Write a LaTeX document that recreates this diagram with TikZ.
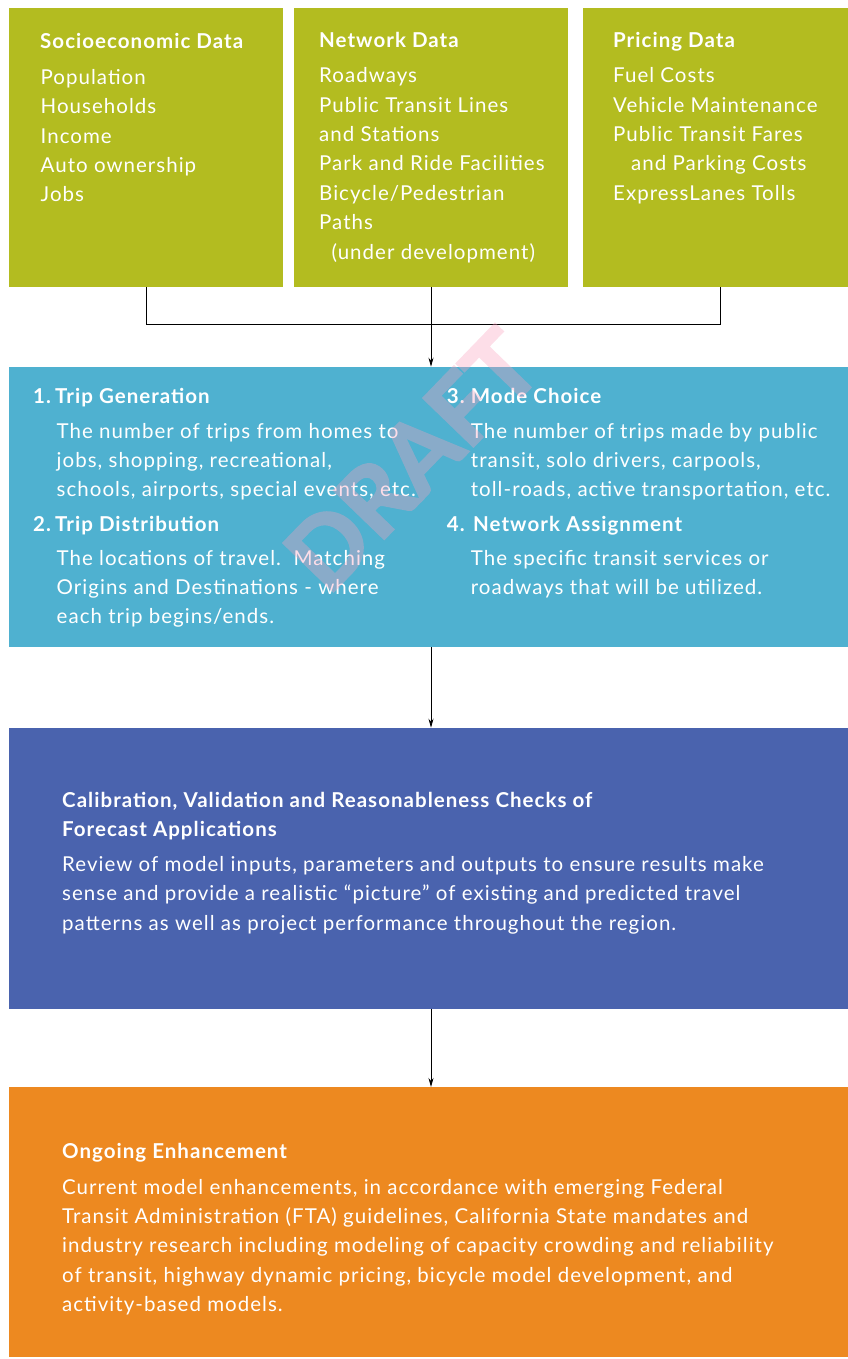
\documentclass[tikz,border=0pt]{standalone}
\usepackage{fontspec}
\setmainfont{Lato}[LetterSpace=5]
\newfontfamily\wmfont{Lato}[BoldFeatures={FakeBold=2.5}]
\usetikzlibrary{arrows.meta}
\definecolor{cgreen}{RGB}{179,188,32}
\definecolor{cblue}{RGB}{79,177,208}
\definecolor{cpurple}{RGB}{74,99,174}
\definecolor{corange}{RGB}{237,137,32}
\definecolor{cpink}{RGB}{248,160,190}
\newcommand\blk[2][600pt]{\parbox[t]{#1}{\fontsize{20.5}{29.4}\selectfont\raggedright #2}}
\begin{document}
\begin{tikzpicture}[x=1pt,y=-1pt,
  panel/.style={fill=#1,draw=none},
  txt/.style={anchor=base west,inner sep=0pt,text=white},
  hd/.style={anchor=base west,inner sep=0pt,text=white,font=\fontsize{20.5}{24}\selectfont\bfseries},
  conn/.style={draw=black,line width=0.8pt},
  arr/.style={conn,-{Stealth[length=9pt,width=5pt]}}]
\useasboundingbox (0,0) rectangle (848,1359);
% boxes
\path[panel=cgreen] (9,8) rectangle (283,287.3);
\path[panel=cgreen] (294,8) rectangle (567.7,287.3);
\path[panel=cgreen] (583,8) rectangle (848,287.3);
\path[panel=cblue] (9,366.7) rectangle (848,647.3);
\path[panel=cpurple] (9,727.7) rectangle (848,1008.7);
\path[panel=corange] (9,1087) rectangle (848,1357);
% anchor coordinates
\coordinate (b1) at (146,287.3);
\coordinate (b2) at (431,287.3);
\coordinate (b3) at (720,287.3);
\coordinate (j1) at (146,324.3);
\coordinate (j2) at (431,324.3);
\coordinate (j3) at (720,324.3);
\coordinate (s1) at (431,366.7);
\coordinate (s1b) at (431,647.3);
\coordinate (s2) at (431,727.7);
\coordinate (s2b) at (431,1008.7);
\coordinate (s3) at (431,1087);
% connectors
\draw[conn] (b1) -- (j1) -- (j3) -- (b3);
\draw[arr] (b2) -- (s1);
\draw[arr] (s1b) -- (s2);
\draw[arr] (s2b) -- (s3);
% top box texts
\node[hd] (h1) at (40,49) {Socioeconomic Data};
\node[txt] (t1) at (40.5,84.3) {\blk{Population\\Households\\Income\\Auto ownership\\Jobs}};
\node[hd] (h2) at (319,48) {Network Data};
\node[txt] (t2) at (319,82.7) {\blk{Roadways\\Public Transit Lines\\and Stations\\Park and Ride Facilities\\Bicycle/Pedestrian\\Paths\\\hspace*{12.5pt}(under development)}};
\node[hd] (h3) at (613,48) {Pricing Data};
\node[txt] (t3) at (613,82.7) {\blk{Fuel Costs\\Vehicle Maintenance\\Public Transit Fares\\\hspace*{18pt}and Parking Costs\\ExpressLanes Tolls}};
% blue box texts
\node[hd] (g1n) at (33,403.3) {1.};
\node[hd] (g1) at (55,403.3) {Trip Generation};
\node[txt] (g1t) at (56.5,438) {\blk{The number of trips from homes to\\jobs, shopping, recreational,\\schools, airports, special events, etc.}};
\node[hd] (g2n) at (33,531.5) {2.};
\node[hd] (g2) at (55,531.5) {Trip Distribution};
\node[txt] (g2t) at (56.5,565) {\blk{The locations of travel.\ \ Matching\\Origins and Destinations - where\\each trip begins/ends.}};
\node[hd] (g3n) at (446.7,403.3) {3.};
\node[hd] (g3) at (470.7,403.3) {Mode Choice};
\node[txt] (g3t) at (470.7,438) {\blk{The number of trips made by public\\transit, solo drivers, carpools,\\toll-roads, active transportation, etc.}};
\node[hd] (g4n) at (446.7,531.5) {4.};
\node[hd] (g4) at (473,531.5) {Network Assignment};
\node[txt] (g4t) at (470.7,565) {\blk{The specific transit services or\\roadways that will be utilized.}};
% purple
\node[txt] (ph) at (62,807.3) {\parbox[t]{700pt}{\fontsize{20.5}{28.7}\selectfont\bfseries\raggedright Calibration, Validation and Reasonableness Checks of\\Forecast Applications}};
\node[txt] (pt) at (62,871.5) {\blk[780pt]{Review of model inputs, parameters and outputs to ensure results make\\sense and provide a realistic ``picture'' of existing and predicted travel\\patterns as well as project performance throughout the region.}};
% orange
\node[hd] (oh) at (62,1158.3) {Ongoing Enhancement};
\node[txt] (ot) at (62,1194) {\blk[780pt]{Current model enhancements, in accordance with emerging Federal\\Transit Administration (FTA) guidelines, California State mandates and\\industry research including modeling of capacity crowding and reliability\\of transit, highway dynamic pricing, bicycle model development, and\\activity-based models.}};
% watermark
\begin{scope}[transparency group,opacity=0.35]
\node[inner sep=0pt,rotate=46,text=cpink,font=\fontsize{96}{96}\wmfont\bfseries] (wm) at (412,460) {DRAFT};
\end{scope}
\end{tikzpicture}
\end{document}
